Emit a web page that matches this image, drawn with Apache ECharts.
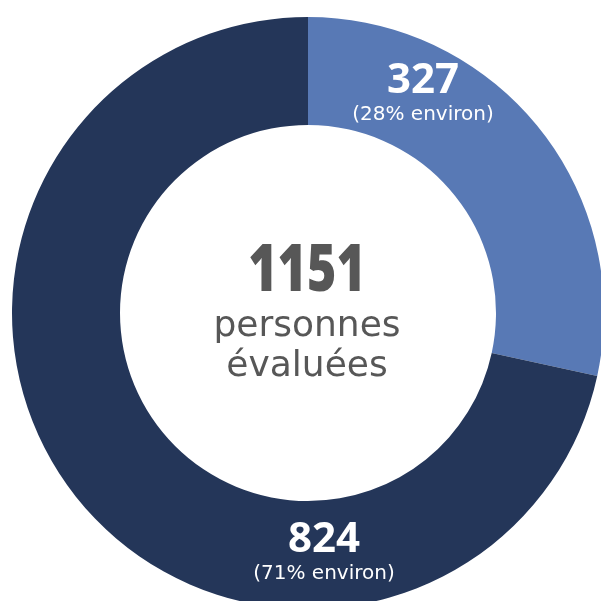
<!DOCTYPE html>
<html>
<head>
<meta charset="utf-8">
<style>
html,body{margin:0;padding:0;background:#fff;}
#chart{width:601px;height:601px;}
</style>
<script src="https://cdn.jsdelivr.net/npm/echarts@6/dist/echarts.min.js"></script>
</head>
<body>
<div id="chart"></div>
<script>
const categories = ['Groupe A', 'Groupe B'];
const values = [327, 824];
const percentLabels = ['28%', '71%'];
const colors = ['#5879B5', '#243659'];
const centerCaption = ['personnes', 'évaluées'];

const total = values.reduce((a, b) => a + b, 0);
const labelPos = [[423, 93], [324, 552]];

const chart = echarts.init(document.getElementById('chart'), null, {renderer: 'canvas'});
chart.setOption({
  animation: false,
  backgroundColor: '#ffffff',
  series: [{
    type: 'pie',
    center: [308, 313],
    radius: [188, 296],
    startAngle: 90,
    clockwise: true,
    silent: true,
    labelLine: {show: false},
    label: {
      show: true,
      position: 'inside',
      formatter: function (p) {
        return '{v|' + p.value + '}\n{p|(' + percentLabels[p.dataIndex] + ' environ)}';
      },
      rich: {
        v: {fontFamily: 'Noto Sans', fontWeight: 'bold', fontSize: 42, color: '#ffffff', lineHeight: 44, align: 'center'},
        p: {fontFamily: 'DejaVu Sans', fontSize: 20, color: '#ffffff', lineHeight: 24, align: 'center'}
      }
    },
    labelLayout: function (params) {
      const pos = labelPos[params.dataIndex];
      return {x: pos[0], y: pos[1], align: 'center', verticalAlign: 'middle'};
    },
    data: categories.map((c, i) => ({
      name: c,
      value: values[i],
      itemStyle: {color: colors[i]}
    }))
  }],
  graphic: [
    {
      type: 'text',
      x: 307, y: 272, scaleX: 0.76,
      style: {
        text: String(total), x: 0, y: 0, textAlign: 'center', textVerticalAlign: 'middle',
        fontFamily: 'Noto Sans', fontWeight: 900, fontSize: 66, fill: '#575757'
      }
    },
    {
      type: 'text',
      style: {
        text: centerCaption[0], x: 307, y: 327, textAlign: 'center', textVerticalAlign: 'middle',
        fontFamily: 'DejaVu Sans', fontSize: 36, fill: '#575757'
      }
    },
    {
      type: 'text',
      style: {
        text: centerCaption[1], x: 307, y: 367, textAlign: 'center', textVerticalAlign: 'middle',
        fontFamily: 'DejaVu Sans', fontSize: 36, fill: '#575757'
      }
    }
  ]
});
</script>
</body>
</html>
